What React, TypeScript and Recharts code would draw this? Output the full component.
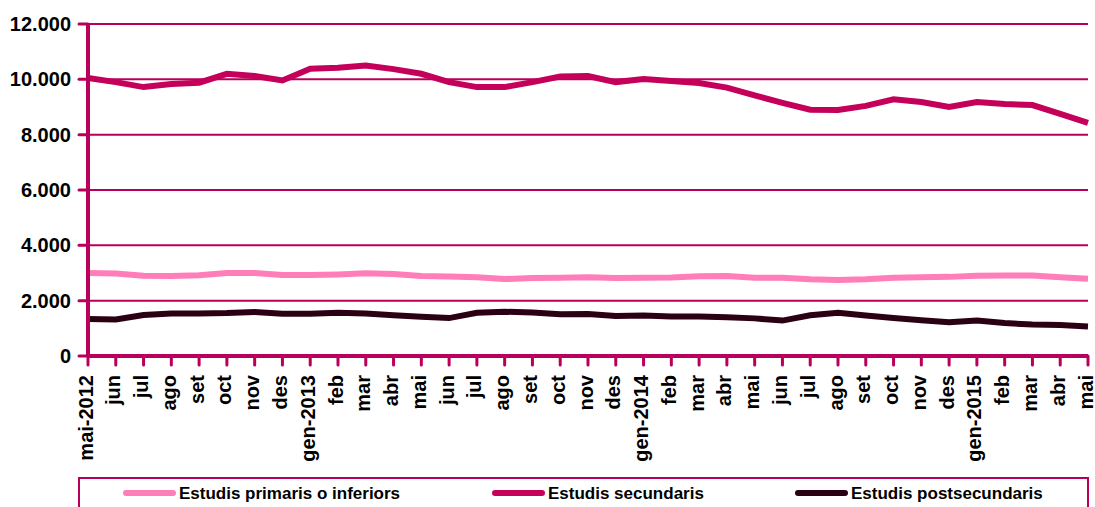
import React from 'react';
import { LineChart, Line, XAxis, YAxis, CartesianGrid, Legend } from 'recharts';

const months = [
  'mai-2012', 'jun', 'jul', 'ago', 'set', 'oct', 'nov', 'des',
  'gen-2013', 'feb', 'mar', 'abr', 'mai', 'jun', 'jul', 'ago', 'set', 'oct', 'nov', 'des',
  'gen-2014', 'feb', 'mar', 'abr', 'mai', 'jun', 'jul', 'ago', 'set', 'oct', 'nov', 'des',
  'gen-2015', 'feb', 'mar', 'abr', 'mai',
];

const primaris = [
  3000, 2980, 2900, 2890, 2920, 3000, 3000, 2930, 2930, 2950, 2990, 2960,
  2890, 2870, 2850, 2780, 2820, 2830, 2850, 2820, 2830, 2840, 2880, 2890,
  2830, 2830, 2770, 2750, 2770, 2830, 2850, 2860, 2900, 2910, 2910, 2850, 2790,
];

const secundaris = [
  10050, 9900, 9720, 9830, 9880, 10200, 10120, 9960, 10380, 10420, 10500, 10370,
  10200, 9900, 9720, 9720, 9900, 10100, 10120, 9900, 10010, 9940, 9870, 9700,
  9420, 9150, 8900, 8890, 9040, 9280, 9180, 9000, 9180, 9110, 9070, 8750, 8430,
];

const postsecundaris = [
  1340, 1320, 1480, 1540, 1540, 1550, 1590, 1530, 1530, 1560, 1540, 1470,
  1420, 1370, 1560, 1600, 1570, 1510, 1520, 1450, 1460, 1430, 1430, 1400,
  1360, 1280, 1470, 1560, 1460, 1370, 1290, 1220, 1280, 1190, 1140, 1120, 1070,
];

const yTicks = [0, 2000, 4000, 6000, 8000, 10000, 12000];

const seriesNames = ['Estudis primaris o inferiors', 'Estudis secundaris', 'Estudis postsecundaris'];
const seriesColors = ['#FF7DB8', '#C4005A', '#2A0012'];
const seriesKeys = ['primaris', 'secundaris', 'postsecundaris'];

const data = months.map((m, i) => ({
  m: m + '#' + i,
  primaris: primaris[i],
  secundaris: secundaris[i],
  postsecundaris: postsecundaris[i],
}));

const AXIS = '#B8005A';
const FONT = '"Liberation Sans", Arial, sans-serif';

const fmt = (v: number) => v.toString().replace(/\B(?=(\d{3})+(?!\d))/g, '.');

const XTick = (props: any) => {
  const { payload } = props;
  const x = props.x - 2.5;
  const label = String(payload.value).split('#')[0];
  const y = 375;
  return (
    <text
      x={x}
      y={y}
      transform={`rotate(-90, ${x}, ${y})`}
      textAnchor="end"
      dominantBaseline="central"
      fontFamily={FONT}
      fontWeight="bold"
      fontSize={20}
      fill="#000"
    >
      {label}
    </text>
  );
};

const legendPositions = [123, 492, 795];

const LegendBox = () => (
  <div
    style={{
      position: 'relative',
      width: 1011,
      height: 40,
      border: `2px solid ${AXIS}`,
      boxSizing: 'border-box',
      fontFamily: FONT,
      fontWeight: 'bold',
      fontSize: 17,
      color: '#000',
    }}
  >
    {seriesNames.map((n, i) => (
      <div key={n} style={{ position: 'absolute', left: legendPositions[i] - 78 - 2, top: -1, height: 30, display: 'flex', alignItems: 'center', whiteSpace: 'nowrap' }}>
        <div style={{ width: 53, height: 6, borderRadius: 3, background: seriesColors[i], marginRight: 3 }} />
        <span style={{ lineHeight: '17px' }}>{n}</span>
      </div>
    ))}
  </div>
);

export default function App() {
  return (
    <div style={{ position: 'absolute', left: 0, top: 0, width: 1095, height: 507, background: '#fff', overflow: 'hidden' }}>
      <LineChart width={1095} height={507} data={data} margin={{ top: 24, right: 7, left: 0, bottom: 0 }}>
        <CartesianGrid vertical={false} stroke={AXIS} strokeWidth={2} strokeOpacity={1} />
        <XAxis
          dataKey="m"
          interval={0}
          height={151}
          tick={<XTick />}
          tickSize={9}
          axisLine={{ stroke: AXIS, strokeWidth: 4 }}
          tickLine={{ stroke: AXIS, strokeWidth: 3, strokeLinecap: 'round' }}
        />
        <YAxis
          width={88}
          domain={[0, 12000]}
          ticks={yTicks}
          tickFormatter={fmt}
          interval={0}
          tickSize={9}
          tickMargin={8}
          tick={{ fill: '#000', fontFamily: FONT, fontWeight: 'bold', fontSize: 20 }}
          axisLine={{ stroke: AXIS, strokeWidth: 4 }}
          tickLine={{ stroke: AXIS, strokeWidth: 3, strokeLinecap: 'round' }}
        />
        <Legend
          verticalAlign="middle"
          align="center"
          layout="horizontal"
          wrapperStyle={{ top: 477, left: 78, width: 1011, height: 40 }}
          content={() => <LegendBox />}
        />
        {seriesKeys.map((k, i) => (
          <Line
            key={k}
            type="linear"
            dataKey={k}
            name={seriesNames[i]}
            stroke={seriesColors[i]}
            strokeWidth={6}
            dot={false}
            activeDot={false}
            isAnimationActive={false}
          />
        ))}
      </LineChart>
    </div>
  );
}
